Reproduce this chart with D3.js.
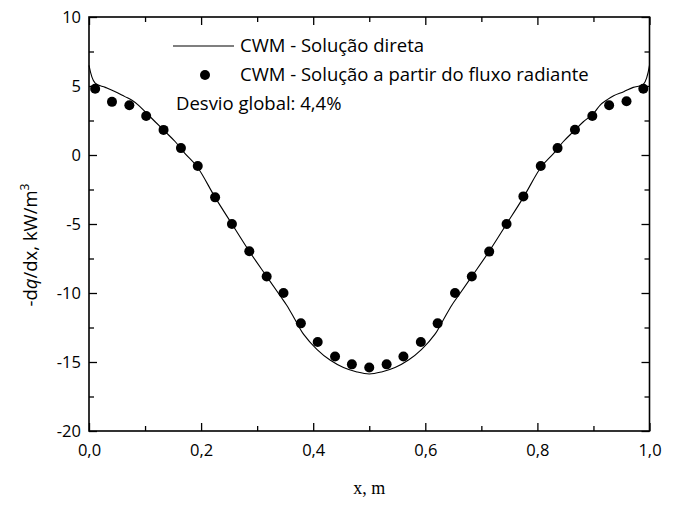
<!doctype html>
<html lang="pt">
<head>
  <meta charset="utf-8">
  <title>CWM - dq/dx</title>
  <script src="https://d3js.org/d3.v7.min.js"></script>
  <style>
    body { margin: 0; background: #fff; }
    text { font-family: "Open Sans", Lato, sans-serif; fill: #000; }
  </style>
</head>
<body>
  <div id="chart"></div>
  <script type="text/javascript">
	// curva continua (solucao direta)
	var lineX = [0, 0.011, 0.029, 0.046, 0.064, 0.076, 0.088, 0.1, 0.118, 0.136, 0.154, 0.171, 0.193, 0.225, 0.255, 0.286, 0.317, 0.341, 0.353, 0.368, 0.383, 0.407, 0.43, 0.454, 0.478, 0.5,
	             0.522, 0.546, 0.57, 0.593, 0.617, 0.632, 0.647, 0.659, 0.683, 0.714, 0.745, 0.775, 0.807, 0.829, 0.846, 0.864, 0.882, 0.9, 0.912, 0.924, 0.936, 0.954, 0.971, 0.989, 1];
	var lineY = [6.5, 5.2, 4.9, 4.6, 4.23, 3.99, 3.62, 3.14, 2.41, 1.69, 0.96, 0.12, -0.85, -3.07, -5.0, -6.98, -8.8, -10.2, -10.9, -11.96, -13.0, -14.1, -14.86, -15.4, -15.72, -15.87,
	             -15.72, -15.4, -14.86, -14.1, -13.0, -11.96, -10.9, -10.2, -8.8, -6.98, -5.0, -3.07, -0.85, 0.12, 0.96, 1.69, 2.41, 3.0, 3.62, 3.99, 4.3, 4.59, 4.9, 5.12, 6.5];

	// pontos (solucao a partir do fluxo radiante)
	var dotX = [0.011, 0.041, 0.072, 0.102, 0.133, 0.164, 0.194, 0.225, 0.255, 0.286, 0.317, 0.347, 0.378, 0.408, 0.439, 0.469, 0.5,
	            0.531, 0.561, 0.592, 0.622, 0.653, 0.683, 0.714, 0.745, 0.775, 0.806, 0.836, 0.867, 0.898, 0.928, 0.959, 0.989];
	var dotY = [4.8, 3.85, 3.6, 2.83, 1.82, 0.5, -0.8, -3.07, -5.0, -6.98, -8.8, -10.0, -12.2, -13.55, -14.6, -15.17, -15.4,
	            -15.17, -14.6, -13.55, -12.2, -10.0, -8.8, -7.0, -5.0, -3.0, -0.8, 0.5, 1.83, 2.83, 3.6, 3.9, 4.8];

	var xTicks = [0, 0.2, 0.4, 0.6, 0.8, 1.0];
	var xMinor = [0.1, 0.3, 0.5, 0.7, 0.9];
	var yTicks = [10, 5, 0, -5, -10, -15, -20];
	var yMinor = [7.5, 2.5, -2.5, -7.5, -12.5, -17.5];

	var legendNames = ["CWM - Solução direta", "CWM - Solução a partir do fluxo radiante"];
	var note = "Desvio global: 4,4%";

	var width = 678, height = 505;
	var pLeft = 89, pRight = 649.5, pTop = 17, pBottom = 431;

	var pt = d3.formatLocale({decimal: ",", thousands: ".", grouping: [3], currency: ["", ""], minus: "-"});

	var x = d3.scaleLinear().domain([0, 1]).range([pLeft, pRight]);
	var y = d3.scaleLinear().domain([-20, 10]).range([pBottom, pTop]);

	var svg = d3.select('#chart')
				.append('svg')
				.attr('width', width)
				.attr('height', height);

	// eixos com marcas para dentro
	function styleAxis(g) {
		g.select('.domain').remove();
		g.selectAll('line').attr('stroke', '#000').attr('stroke-width', 1.3);
		g.selectAll('text').style('font-size', '16.5px').style('font-family', '"Open Sans", Lato, sans-serif');
	}

	svg.append('g').attr('transform', 'translate(0,' + pBottom + ')')
		.call(d3.axisBottom(x).tickValues(xTicks).tickSize(-8).tickPadding(13).tickFormat(pt.format('.1f')))
		.call(styleAxis);
	svg.append('g').attr('transform', 'translate(0,' + pBottom + ')')
		.call(d3.axisBottom(x).tickValues(xMinor).tickSize(-5).tickFormat(''))
		.call(styleAxis);
	svg.append('g').attr('transform', 'translate(0,' + pTop + ')')
		.call(d3.axisTop(x).tickValues(xTicks).tickSize(-8).tickFormat(''))
		.call(styleAxis);
	svg.append('g').attr('transform', 'translate(0,' + pTop + ')')
		.call(d3.axisTop(x).tickValues(xMinor).tickSize(-5).tickFormat(''))
		.call(styleAxis);

	svg.append('g').attr('transform', 'translate(' + pLeft + ',0)')
		.call(d3.axisLeft(y).tickValues(yTicks).tickSize(-8).tickPadding(8).tickFormat(pt.format('d')))
		.call(styleAxis);
	svg.append('g').attr('transform', 'translate(' + pLeft + ',0)')
		.call(d3.axisLeft(y).tickValues(yMinor).tickSize(-5).tickFormat(''))
		.call(styleAxis);
	svg.append('g').attr('transform', 'translate(' + pRight + ',0)')
		.call(d3.axisRight(y).tickValues(yTicks).tickSize(-8).tickFormat(''))
		.call(styleAxis);
	svg.append('g').attr('transform', 'translate(' + pRight + ',0)')
		.call(d3.axisRight(y).tickValues(yMinor).tickSize(-5).tickFormat(''))
		.call(styleAxis);

	// moldura
	svg.append('rect')
		.attr('x', pLeft).attr('y', pTop)
		.attr('width', pRight - pLeft).attr('height', pBottom - pTop)
		.attr('fill', 'none').attr('stroke', '#000').attr('stroke-width', 1.6);

	// curva
	var line = d3.line()
		.x(function(d) { return x(d[0]); })
		.y(function(d) { return y(d[1]); })
		.curve(d3.curveCatmullRom.alpha(0.5));

	svg.append('path')
		.datum(d3.zip(lineX, lineY))
		.attr('d', line)
		.attr('fill', 'none')
		.attr('stroke', '#000')
		.attr('stroke-width', 1.1);

	svg.selectAll('.dot')
		.data(d3.zip(dotX, dotY))
		.enter()
		.append('circle')
		.attr('class', 'dot')
		.attr('cx', function(d) { return x(d[0]); })
		.attr('cy', function(d) { return y(d[1]); })
		.attr('r', 5)
		.attr('fill', '#000');

	// legenda
	var lg = svg.append('g');
	lg.append('line').attr('x1', 173).attr('x2', 234).attr('y1', 46).attr('y2', 46)
		.attr('stroke', '#000').attr('stroke-width', 1.1);
	lg.append('circle').attr('cx', 205).attr('cy', 75).attr('r', 5).attr('fill', '#000');
	lg.selectAll('.lgtext')
		.data(legendNames)
		.enter()
		.append('text')
		.attr('class', 'lgtext')
		.attr('x', 240)
		.attr('y', function(d, i) { return 46 + i * 29; })
		.attr('dy', '0.35em')
		.style('font-size', '18.5px')
		.text(function(d) { return d; });
	lg.append('text')
		.attr('x', 176).attr('y', 104).attr('dy', '0.35em')
		.style('font-size', '18.5px')
		.text(note);

	// titulos dos eixos
	svg.append('text')
		.attr('x', (pLeft + pRight) / 2).attr('y', 494)
		.attr('text-anchor', 'middle')
		.style('font-family', '"Liberation Serif", "DejaVu Serif", serif')
		.style('font-size', '18px')
		.text('x, m');

	var yl = svg.append('text')
		.attr('transform', 'translate(37,245) rotate(-90)')
		.attr('text-anchor', 'middle')
		.style('font-size', '18.5px');
	yl.append('tspan').text('-d');
	yl.append('tspan').style('font-style', 'italic').text('q');
	yl.append('tspan').text('/dx, kW/m');
	yl.append('tspan').attr('dy', -8).style('font-size', '12px').text('3');
  </script>
</body>
</html>
